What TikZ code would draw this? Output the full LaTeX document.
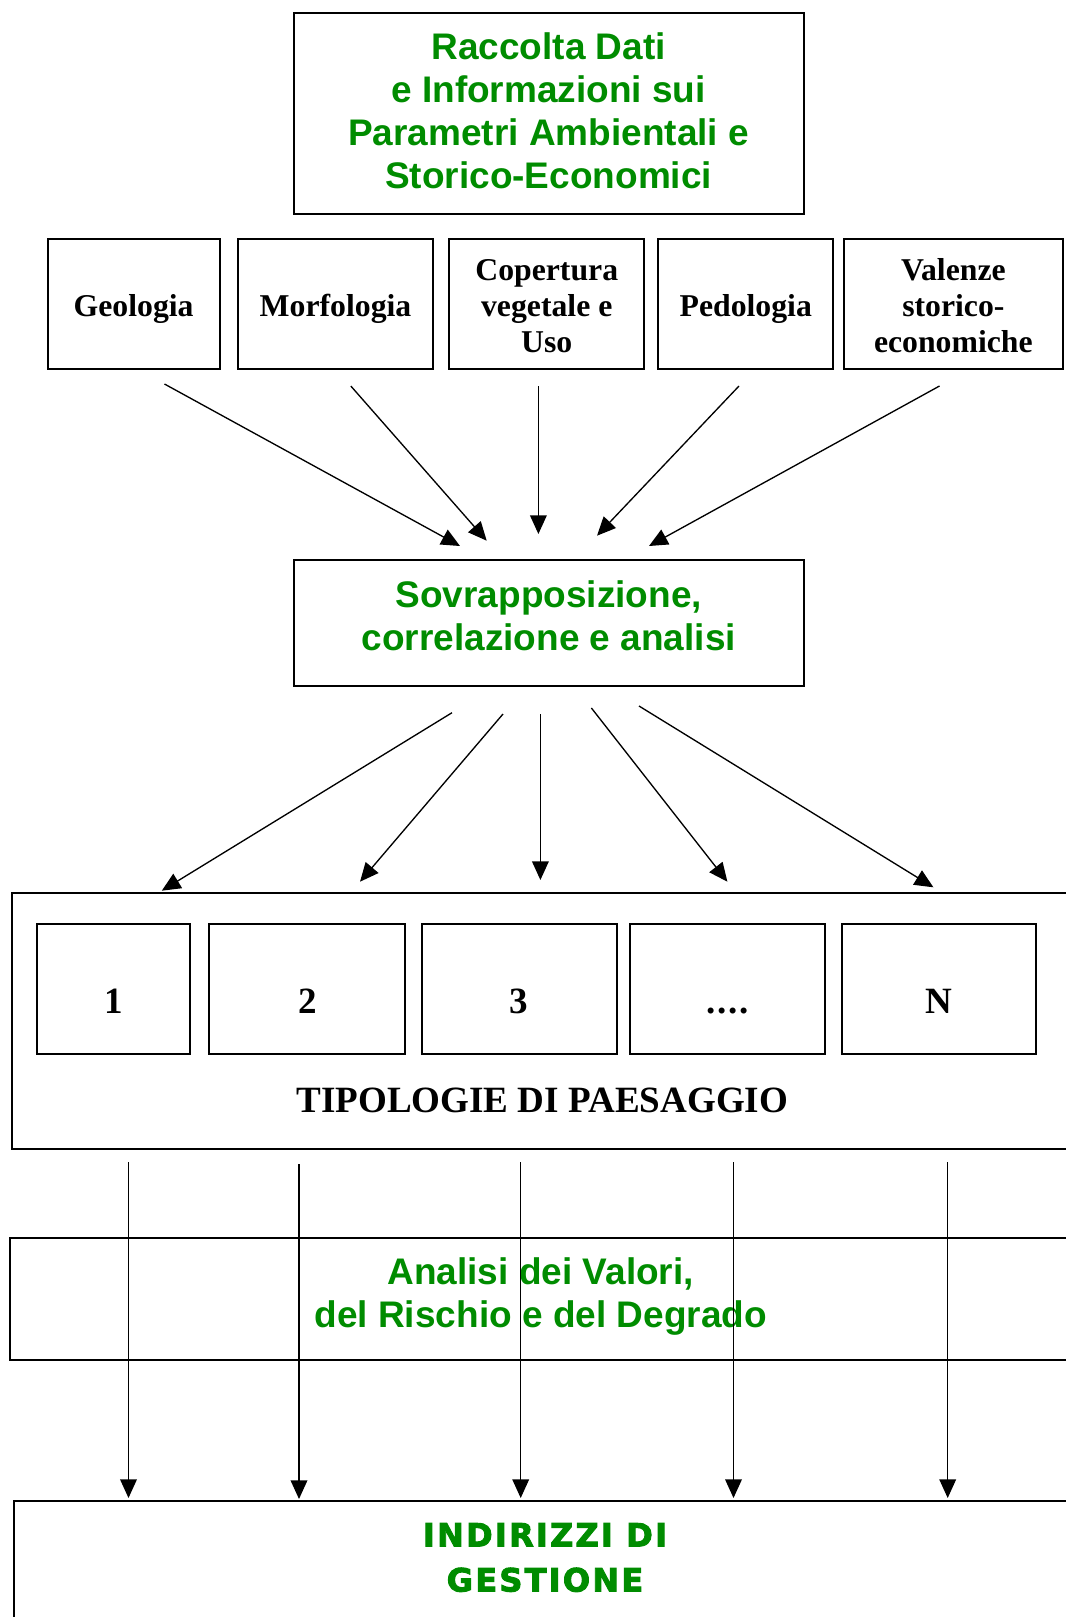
\documentclass[tikz,border=0pt]{standalone}
\usepackage{fontspec}
\setmainfont{Liberation Serif}
\setsansfont{Liberation Sans}
\newfontfamily\widefont{DejaVu Sans}[LetterSpace=7, BoldFeatures={FakeBold=3}]
\usetikzlibrary{arrows.meta}
\definecolor{titlegreen}{RGB}{0,140,0}

\begin{document}
\begin{tikzpicture}[x=0.75pt,y=0.75pt,yscale=-1,xscale=1,
  box/.style={draw, line width=1.5pt, inner sep=2pt, align=center},
  greentext/.style={font=\sffamily\bfseries\fontsize{27.75}{32.25}\selectfont, text=titlegreen},
  smalltext/.style={font=\rmfamily\bfseries\fontsize{23.8}{27}\selectfont},
  bigtext/.style={font=\rmfamily\bfseries\fontsize{27.8}{32}\selectfont},
  themebox/.style={box, smalltext, minimum height=97.5pt},
  oneline/.style={text height=23.5pt, text depth=5pt},
  numbox/.style={box, bigtext, minimum height=97.3pt, text height=36.3pt, text depth=0pt},
  flow/.style={line width=1pt, -{Triangle[length=14pt,width=12.5pt]}}]
\useasboundingbox (0,0) rectangle (1066,1617);
\clip (0,0) rectangle (1066,1617);

% Boxes
\node [box, greentext, minimum width=382.4pt, minimum height=150.5pt] (data) at (548.6,113.7) {Raccolta Dati\\e Informazioni sui\\Parametri Ambientali e\\Storico-Economici\rule[-4.5pt]{0pt}{0pt}};
\node [themebox, oneline, minimum width=129pt] (geo) at (133.6,303.7) {Geologia};
\node [themebox, oneline, minimum width=146.25pt] (morf) at (335.5,303.7) {Morfologia};
\node [themebox, minimum width=146.6pt] (cop) at (546.75,303.7) {Copertura\rule{0pt}{19.5pt}\\vegetale e\\Uso};
\node [themebox, oneline, minimum width=131.6pt] (ped) at (745.75,303.7) {Pedologia};
\node [themebox, minimum width=164pt] (val) at (953.35,303.7) {Valenze\rule{0pt}{19.5pt}\\storico-\\economiche};
\node [box, greentext, minimum width=382.7pt, minimum height=94pt] (sov) at (548.85,623) {Sovrapposizione,\\correlazione e analisi\rule[-10.5pt]{0pt}{0pt}};
\node [box, minimum width=796pt, minimum height=191.8pt] (tip) at (542.3,1021.15) {};
\node [numbox, minimum width=114.7pt] (t1) at (113.85,989.15) {1};
\node [numbox, minimum width=146.9pt] (t2) at (307.3,989.15) {2};
\node [numbox, minimum width=146.3pt] (t3) at (519.05,989.15) {3};
\node [numbox, minimum width=146.3pt] (t4) at (727.75,989.15) {.\kern1.5pt.\kern1.5pt.\kern1.5pt.};
\node [numbox, minimum width=145.8pt] (tN) at (938.8,989.15) {N};
\node [box, greentext, minimum width=796pt, minimum height=91.5pt] (ana) at (540.7,1299) {Analisi dei Valori,\\del Rischio e del Degrado\rule[-10.3pt]{0pt}{0pt}};
\node [box, minimum width=796.8pt, minimum height=149.5pt] (ind) at (544.8,1600.35) {};

% Text Node
\node [bigtext] (tiplab) at (542.3,1100) {TIPOLOGIE DI PAESAGGIO};
% Text Node
\node [align=center, text=titlegreen, font=\widefont\bfseries\fontsize{24}{33.75}\selectfont] (indlab) at (545,1557.5) {INDIRIZZI DI\\GESTIONE};

% Arrow ends
\coordinate (geo-out) at (164.5,384);
\coordinate (morf-out) at (350.8,386);
\coordinate (cop-out) at (538.4,386);
\coordinate (ped-out) at (739,386);
\coordinate (val-out) at (939.5,386);
\coordinate (sov-in1) at (460,546);
\coordinate (sov-in2) at (486.7,540.7);
\coordinate (sov-in3) at (538.4,534);
\coordinate (sov-in4) at (597,535.7);
\coordinate (sov-in5) at (649,546);
\coordinate (sov-out1) at (452,712.7);
\coordinate (sov-out2) at (503,714);
\coordinate (sov-out3) at (540.4,714);
\coordinate (sov-out4) at (591.4,708);
\coordinate (sov-out5) at (639,706);
\coordinate (tip-in1) at (161.8,890.7);
\coordinate (tip-in2) at (360,881.7);
\coordinate (tip-in3) at (540.4,880);
\coordinate (tip-in4) at (727.4,881.7);
\coordinate (tip-in5) at (933.4,887.3);
\coordinate (tip-out1) at (128.5,1162);
\coordinate (tip-out2) at (299,1164);
\coordinate (tip-out3) at (520.7,1162);
\coordinate (tip-out4) at (733.5,1162);
\coordinate (tip-out5) at (947.7,1162);
\coordinate (ind-in1) at (128.5,1498);
\coordinate (ind-in2) at (299,1499);
\coordinate (ind-in3) at (520.7,1498);
\coordinate (ind-in4) at (733.5,1498);
\coordinate (ind-in5) at (947.7,1498);

%Straight Lines
\draw [flow] (geo-out) -- (sov-in1);
\draw [flow] (morf-out) -- (sov-in2);
\draw [flow] (cop-out) -- (sov-in3);
\draw [flow] (ped-out) -- (sov-in4);
\draw [flow] (val-out) -- (sov-in5);
%Straight Lines
\draw [flow] (sov-out1) -- (tip-in1);
\draw [flow] (sov-out2) -- (tip-in2);
\draw [flow] (sov-out3) -- (tip-in3);
\draw [flow] (sov-out4) -- (tip-in4);
\draw [flow] (sov-out5) -- (tip-in5);
%Straight Lines
\draw [flow] (tip-out1) -- (ind-in1);
\draw [flow] (tip-out2) -- (ind-in2);
\draw [flow] (tip-out3) -- (ind-in3);
\draw [flow] (tip-out4) -- (ind-in4);
\draw [flow] (tip-out5) -- (ind-in5);

\end{tikzpicture}
\end{document}
